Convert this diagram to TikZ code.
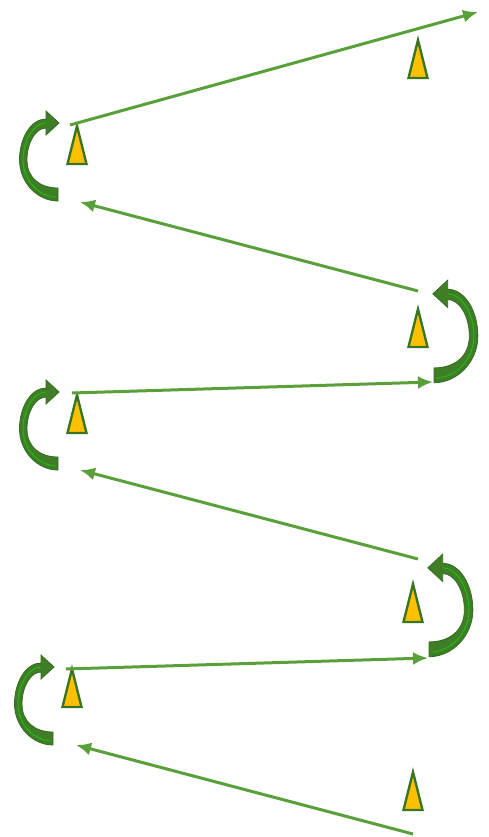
\documentclass[tikz,border=0pt]{standalone}
\usetikzlibrary{arrows.meta}
\definecolor{conefill}{HTML}{FFC000}
\definecolor{conedraw}{HTML}{3A7523}
\definecolor{linegreen}{HTML}{5AA03A}
\definecolor{blockgreen}{HTML}{3F7D27}
\definecolor{blockedge}{HTML}{356B20}
\tikzset{
  cone/.pic={\draw[fill=conefill,draw=conedraw,line width=2.4pt,line join=miter]
     (0,0) -- (-9.5,38) -- (9.5,38) -- cycle;},
  turn/.pic={\filldraw[fill=blockgreen,draw=blockedge,line width=0.8pt]
     (0,41) .. controls (-21,41) and (-38.5,22) .. (-38.5,0)
     .. controls (-38.5,-22) and (-27,-41) .. (-12,-41)
     -- (-12,-49) -- (1,-37) -- (-12,-25) -- (-12,-32)
     .. controls (-22,-32) and (-31,-18) .. (-31,0)
     .. controls (-31,18) and (-18,28) .. (0,28) -- cycle;
     \draw[green!45!blockgreen,line width=1pt]
     (-2,37) .. controls (-20,36) and (-35,20) .. (-35,0)
     .. controls (-35,-20) and (-24,-37) .. (-12,-37);},
  flow/.style={draw=linegreen,line width=3pt,-{Latex[length=15pt,width=13pt]}}
}
\begin{document}
\begin{tikzpicture}[x=1pt,y=-1pt]
\useasboundingbox (0,0) rectangle (488,837);
% cones
\pic at (418,40) {cone};
\pic at (77,126) {cone};
\pic at (418,309) {cone};
\pic at (77,395) {cone};
\pic at (413,584) {cone};
\pic at (72,669) {cone};
\pic at (413,772) {cone};
% turning block arrows
\pic at (58,160) {turn};
\pic at (58,429) {turn};
\pic at (53,704) {turn};
\pic[xscale=-1.14,yscale=1.14] at (434,336) {turn};
\pic[xscale=-1.14,yscale=1.14] at (429,610) {turn};
% connector end points
\coordinate (s1) at (70,125);  \coordinate (e1) at (478,12);
\coordinate (s2) at (418,291); \coordinate (e2) at (80,202);
\coordinate (s3) at (72,393);  \coordinate (e3) at (433,382);
\coordinate (s4) at (418,559); \coordinate (e4) at (80,470);
\coordinate (s5) at (66,669);  \coordinate (e5) at (428,658);
\coordinate (s6) at (413,834); \coordinate (e6) at (76,745);
\foreach \i in {1,...,6} \draw[flow] (s\i) -- (e\i);
\end{tikzpicture}
\end{document}
